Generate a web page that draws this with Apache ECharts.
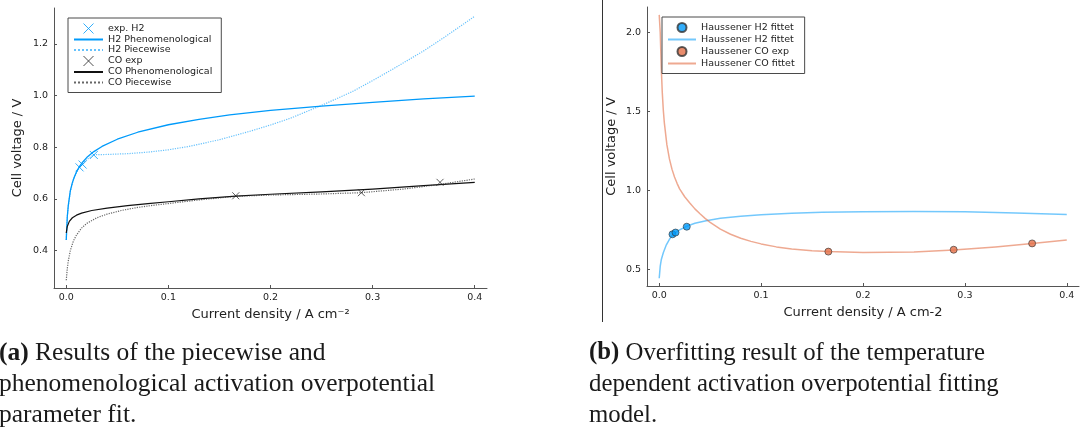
<!DOCTYPE html>
<html>
<head>
<meta charset="utf-8">
<script src="https://cdn.jsdelivr.net/npm/echarts@6/dist/echarts.min.js"></script>
<style>
html,body{margin:0;padding:0;background:#fff;}
#c{width:1081px;height:430px;}
</style>
</head>
<body>
<div id="c"></div>
<script>
// ---------- tick labels ----------
const xTicks = [0, 0.1, 0.2, 0.3, 0.4];
const yTicksA = [0.4, 0.6, 0.8, 1.0, 1.2];
const yTicksB = [0.5, 1.0, 1.5, 2.0];

// ---------- experimental points ----------
const h2ExpX = [0.013, 0.016, 0.027];
const h2ExpY = [0.722, 0.733, 0.770];
const coExpX = [0.166, 0.289, 0.366];
const coExpY = [0.612, 0.624, 0.664];

// ---------- (a) curves ----------
const h2PhenX = [0, 0.001, 0.002, 0.004, 0.006, 0.008, 0.01, 0.013, 0.016, 0.02, 0.027, 0.035, 0.05, 0.07, 0.1, 0.13, 0.16, 0.2, 0.25, 0.3, 0.35, 0.4];
const h2PhenY = [0.441, 0.53, 0.575, 0.632, 0.663, 0.686, 0.704, 0.726, 0.742, 0.76, 0.783, 0.803, 0.831, 0.858, 0.887, 0.908, 0.925, 0.943, 0.959, 0.974, 0.987, 0.998];

const h2PieceX = [0, 0.001, 0.002, 0.004, 0.007, 0.01, 0.013, 0.016, 0.02, 0.027, 0.04, 0.06, 0.08, 0.1, 0.12, 0.15, 0.18, 0.2, 0.22, 0.25, 0.28, 0.3, 0.32, 0.35, 0.37, 0.4];
const h2PieceY = [0.441, 0.53, 0.573, 0.628, 0.675, 0.702, 0.722, 0.737, 0.752, 0.771, 0.772, 0.775, 0.781, 0.79, 0.803, 0.829, 0.862, 0.886, 0.913, 0.962, 1.015, 1.058, 1.103, 1.173, 1.225, 1.307];

const coPhenX = [0, 0.001, 0.003, 0.006, 0.01, 0.015, 0.025, 0.04, 0.06, 0.08, 0.1, 0.13, 0.166, 0.2, 0.25, 0.3, 0.35, 0.4];
const coPhenY = [0.468, 0.493, 0.513, 0.527, 0.537, 0.545, 0.555, 0.564, 0.574, 0.582, 0.589, 0.6, 0.611, 0.618, 0.627, 0.638, 0.651, 0.664];

const coPieceX = [0, 0.001, 0.002, 0.004, 0.007, 0.01, 0.015, 0.02, 0.03, 0.04, 0.055, 0.07, 0.085, 0.1, 0.13, 0.166, 0.2, 0.25, 0.289, 0.33, 0.366, 0.4];
const coPieceY = [0.285, 0.33, 0.36, 0.40, 0.437, 0.46, 0.487, 0.505, 0.527, 0.541, 0.556, 0.567, 0.575, 0.582, 0.596, 0.61, 0.615, 0.619, 0.624, 0.638, 0.656, 0.677];

// ---------- (b) curves ----------
const h2FitX = [0, 0.001, 0.002, 0.004, 0.007, 0.01, 0.013, 0.016, 0.02, 0.027, 0.035, 0.046, 0.06, 0.08, 0.1, 0.13, 0.16, 0.2, 0.25, 0.3, 0.35, 0.4];
const h2FitY = [0.443, 0.52, 0.56, 0.605, 0.655, 0.69, 0.716, 0.733, 0.75, 0.773, 0.792, 0.808, 0.823, 0.836, 0.845, 0.855, 0.861, 0.865, 0.866, 0.864, 0.857, 0.847];

const coFitX = [0, 0.001, 0.002, 0.003, 0.004, 0.005, 0.0075, 0.01, 0.0125, 0.015, 0.0175, 0.02, 0.025, 0.03, 0.035, 0.04, 0.045, 0.05, 0.06, 0.07, 0.08, 0.09, 0.1, 0.115, 0.13, 0.15, 0.166, 0.2, 0.25, 0.289, 0.33, 0.366, 0.4];
const coFitY = [2.113, 2.0, 1.78, 1.62, 1.51, 1.43, 1.29, 1.2, 1.135, 1.085, 1.045, 1.01, 0.96, 0.92, 0.883, 0.852, 0.823, 0.797, 0.755, 0.722, 0.697, 0.677, 0.661, 0.642, 0.629, 0.618, 0.612, 0.606, 0.609, 0.622, 0.642, 0.664, 0.686];

// ---------- names ----------
const namesA = ['exp. H2', 'H2 Phenomenological', 'H2 Piecewise', 'CO exp', 'CO Phenomenological', 'CO Piecewise'];
const namesB = ['Haussener H2 fittet', 'Haussener H2 fittet\u200b', 'Haussener CO exp', 'Haussener CO fittet'];

const zip = (xs, ys) => xs.map((x, i) => [x, ys[i]]);
const FONT = 'DejaVu Sans';
const AX = '#555';
const TXT = '#222';
const BLUE = '#009AFA';
const ORANGE = '#E36F47';
const XPATH = 'path://M0,0L10,10M10,0L0,10';

function xAxisCfg(grid, nameText, gap) {
  return {
    type: 'value', gridIndex: grid, min: -0.012, max: 0.412,
    axisLine: { show: true, onZero: false, lineStyle: { color: AX, width: 1 } },
    axisTick: { show: true, inside: true, length: 3, customValues: xTicks, lineStyle: { color: AX } },
    axisLabel: { customValues: xTicks, formatter: v => v.toFixed(1), fontSize: 9.5, color: TXT, margin: 5, fontFamily: FONT },
    splitLine: { show: false },
    name: nameText, nameLocation: 'middle', nameGap: gap,
    nameTextStyle: { fontSize: 13, color: TXT, fontFamily: FONT }
  };
}
function yAxisCfg(grid, min, max, ticks, gap) {
  return {
    type: 'value', gridIndex: grid, min: min, max: max,
    axisLine: { show: true, onZero: false, lineStyle: { color: AX, width: 1 } },
    axisTick: { show: true, inside: true, length: 3, customValues: ticks, lineStyle: { color: AX } },
    axisLabel: { customValues: ticks, formatter: v => v.toFixed(1), fontSize: 9.5, color: TXT, margin: 6, fontFamily: FONT },
    splitLine: { show: false },
    name: 'Cell voltage / V', nameLocation: 'middle', nameGap: gap,
    nameTextStyle: { fontSize: 13, color: TXT, fontFamily: FONT }
  };
}
function lineSeries(name, xi, data, color, width, type, opacity) {
  return {
    type: 'line', name: name, xAxisIndex: xi, yAxisIndex: xi, data: data,
    symbol: 'none', showSymbol: false, smooth: false,
    lineStyle: { color: color, width: width, type: type, opacity: opacity, join: 'round' },
    itemStyle: { color: color },
    emphasis: { disabled: true }, silent: true, animation: false
  };
}

const chart = echarts.init(document.getElementById('c'), null, { renderer: 'canvas' });
const capFont = 'Liberation Serif';
const capStyle = (t, x, y, fs) => ({
  type: 'text', x: x, y: y, silent: true,
  style: {
    text: t, fontFamily: capFont, fontSize: fs, fill: '#1a1a1a', verticalAlign: 'middle', align: 'left',
    rich: { b: { fontWeight: 'bold', fontFamily: capFont, fontSize: fs, fill: '#1a1a1a' } }
  }
});

chart.setOption({
  backgroundColor: '#fff',
  animation: false,
  grid: [
    { left: 54, top: 8, width: 433, height: 280, outerBoundsMode: 'none', containLabel: false },
    { left: 647, top: 7, width: 432, height: 279, outerBoundsMode: 'none', containLabel: false }
  ],
  xAxis: [xAxisCfg(0, 'Current density / A cm\u207B\u00B2', 18.5), xAxisCfg(1, 'Current density / A cm-2', 19)],
  yAxis: [yAxisCfg(0, 0.255, 1.339, yTicksA, 29.5), yAxisCfg(1, 0.394, 2.163, yTicksB, 29)],
  legend: [
    {
      data: [
        { name: namesA[0] },
        { name: namesA[1], itemStyle: { opacity: 0 } },
        { name: namesA[2], itemStyle: { opacity: 0 } },
        { name: namesA[3] },
        { name: namesA[4], itemStyle: { opacity: 0 } },
        { name: namesA[5], itemStyle: { opacity: 0 } }
      ],
      orient: 'vertical', left: 68, top: 18, padding: [5, 9, 5, 5],
      itemWidth: 29, itemHeight: 10, itemGap: 0.5,
      backgroundColor: '#fff', borderColor: '#4a4a4a', borderWidth: 1, borderRadius: 0,
      selectedMode: false,
      itemStyle: { borderWidth: 1 },
      textStyle: { fontSize: 9.5, color: TXT, fontFamily: FONT, lineHeight: 10 }
    },
    {
      data: [
        { name: namesB[0] },
        { name: namesB[1], itemStyle: { opacity: 0 } },
        { name: namesB[2] },
        { name: namesB[3], itemStyle: { opacity: 0 } }
      ],
      orient: 'vertical', left: 662, top: 17, padding: [5, 10, 5, 5],
      itemWidth: 28, itemHeight: 9, itemGap: 1.5,
      backgroundColor: '#fff', borderColor: '#4a4a4a', borderWidth: 1, borderRadius: 0,
      selectedMode: false,
      textStyle: { fontSize: 9.5, color: TXT, fontFamily: FONT, lineHeight: 10 }
    }
  ],
  series: [
    {
      type: 'scatter', name: namesA[0], xAxisIndex: 0, yAxisIndex: 0, data: zip(h2ExpX, h2ExpY),
      symbol: XPATH, symbolSize: 8,
      itemStyle: { color: 'rgba(0,0,0,0)', borderColor: BLUE, borderWidth: 1 },
      emphasis: { disabled: true }, silent: true, z: 3
    },
    lineSeries(namesA[1], 0, zip(h2PhenX, h2PhenY), BLUE, 1.3, 'solid', 1),
    lineSeries(namesA[2], 0, zip(h2PieceX, h2PieceY), BLUE, 1.2, 'dotted', 0.6),
    {
      type: 'scatter', name: namesA[3], xAxisIndex: 0, yAxisIndex: 0, data: zip(coExpX, coExpY),
      symbol: XPATH, symbolSize: 7,
      itemStyle: { color: 'rgba(0,0,0,0)', borderColor: '#222', borderWidth: 0.9 },
      emphasis: { disabled: true }, silent: true, z: 3
    },
    lineSeries(namesA[4], 0, zip(coPhenX, coPhenY), '#111', 1.2, 'solid', 1),
    lineSeries(namesA[5], 0, zip(coPieceX, coPieceY), '#333', 1.2, 'dotted', 0.75),

    {
      type: 'scatter', name: namesB[0], xAxisIndex: 1, yAxisIndex: 1, data: zip(h2ExpX, h2ExpY),
      symbol: 'circle', symbolSize: 7,
      itemStyle: { color: BLUE, borderColor: '#333', borderWidth: 0.8 },
      emphasis: { disabled: true }, silent: true, z: 3
    },
    lineSeries(namesB[1], 1, zip(h2FitX, h2FitY), BLUE, 1.5, 'solid', 0.55),
    {
      type: 'scatter', name: namesB[2], xAxisIndex: 1, yAxisIndex: 1, data: zip(coExpX, coExpY),
      symbol: 'circle', symbolSize: 7,
      itemStyle: { color: ORANGE, borderColor: '#333', borderWidth: 0.8 },
      emphasis: { disabled: true }, silent: true, z: 3
    },
    lineSeries(namesB[3], 1, zip(coFitX, coFitY), ORANGE, 1.5, 'solid', 0.6)
  ],
  graphic: [
    { type: 'line', silent: true, shape: { x1: 602.5, y1: 0, x2: 602.5, y2: 322 }, style: { stroke: '#333', lineWidth: 1 } },
    capStyle('{b|(a)} Results of the piecewise and', -1, 353, 25.5),
    capStyle('phenomenological activation overpotential', -1, 384, 25.5),
    capStyle('parameter fit.', -1, 415, 25.5),
    capStyle('{b|(b)} Overfitting result of the temperature', 589, 353, 24.8),
    capStyle('dependent activation overpotential fitting', 589, 384, 24.8),
    capStyle('model.', 589, 415, 24.8)
  ]
});
</script>
</body>
</html>
